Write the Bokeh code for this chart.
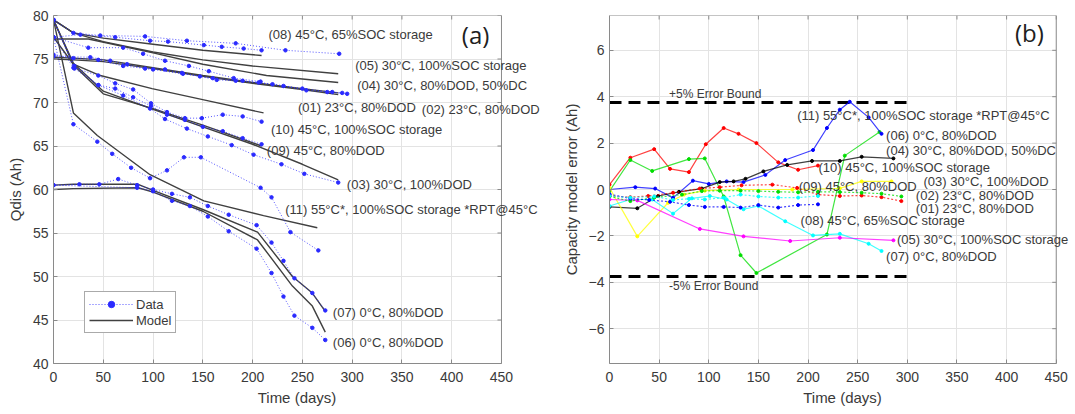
import math
from bokeh.plotting import figure
from bokeh.models import (Range1d, FixedTicker, Legend, LegendItem, LabelSet, Label,
                          ColumnDataSource, BoxAnnotation, Span)
from bokeh.layouts import row
from bokeh.embed import file_html
from bokeh.resources import INLINE
from bokeh.core.properties import value

# ---------------- Panel (a): measured capacity (Data) ----------------
data_days_01 = [0, 37, 57, 74, 92, 112, 129, 147, 164, 183, 206, 231, 254, 275, 295]
data_ah_01 = [75.3, 75.2, 74.8, 74.4, 73.9, 73.8, 73.4, 73.0, 72.6, 72.5, 72.3, 71.9, 71.4, 71.2, 71.0]
data_days_02 = [0, 20, 45, 70, 100, 130, 160, 190, 220, 250, 280, 290]
data_ah_02 = [75.5, 75.1, 74.9, 74.2, 73.8, 73.3, 72.8, 72.5, 72.1, 71.6, 71.2, 71.1]
data_days_03 = [0, 21, 45, 70, 97, 112, 134, 155, 179, 201, 229, 252, 286]
data_ah_03 = [79.5, 74.2, 72.0, 70.8, 69.3, 68.1, 67.0, 66.1, 65.1, 64.0, 62.9, 61.8, 60.8]
data_days_04 = [0, 35, 70, 90, 112, 136, 156, 181, 208]
data_ah_04 = [77.5, 76.3, 76.3, 75.6, 74.8, 74.2, 73.6, 72.8, 72.4]
data_days_05 = [0, 27, 62, 97, 115, 151, 169, 191, 209]
data_ah_05 = [77.5, 77.8, 77.5, 77.1, 77.0, 76.6, 76.4, 76.2, 76.0]
data_days_06 = [0, 84, 100, 119, 137, 155, 176, 204, 219, 231, 242, 260, 273]
data_ah_06 = [60.5, 60.2, 59.8, 58.7, 58.1, 56.9, 55.2, 53.2, 50.4, 47.7, 45.5, 44.1, 42.7]
data_days_07 = [0, 26, 46, 65, 84, 100, 119, 137, 155, 176, 204, 219, 231, 242, 260, 273]
data_ah_07 = [60.5, 60.6, 60.6, 61.2, 60.5, 60.0, 59.5, 59.1, 58.1, 57.1, 55.9, 53.9, 51.8, 49.8, 48.1, 46.1]
data_days_08 = [0, 20, 47, 92, 134, 183, 233, 287]
data_ah_08 = [79.5, 78.0, 77.7, 77.6, 77.1, 76.8, 76.0, 75.6]
data_days_09 = [0, 21, 45, 62, 80, 98, 114, 132, 150, 170, 190, 209]
data_ah_09 = [79.5, 73.9, 72.0, 71.6, 70.6, 69.6, 68.6, 68.0, 67.2, 66.7, 65.9, 65.2]
data_days_10 = [0, 20, 45, 62, 80, 98, 114, 132, 149, 170, 190, 209]
data_ah_10 = [77.5, 74.0, 73.1, 72.2, 71.5, 69.9, 68.9, 68.2, 68.2, 68.6, 68.4, 67.8]
data_days_11 = [0, 20, 44, 59, 78, 97, 114, 131, 148, 208, 219, 238, 266]
data_ah_11 = [77.5, 67.5, 65.5, 64.1, 62.5, 61.3, 62.2, 63.7, 63.7, 60.2, 59.1, 55.1, 53.0]

# ---------------- Panel (a): model ----------------
model_days_01 = [0, 20, 50, 100, 150, 200, 250, 286]
model_ah_01 = [75.2, 75.1, 74.9, 74.0, 73.1, 72.3, 71.6, 71.1]
model_days_02 = [0, 20, 50, 100, 150, 200, 250, 286]
model_ah_02 = [75.0, 74.9, 74.7, 73.9, 73.0, 72.2, 71.5, 70.9]
model_days_03 = [0, 20, 50, 100, 150, 200, 250, 286]
model_ah_03 = [79.5, 74.5, 71.3, 69.2, 67.2, 65.2, 62.9, 61.1]
model_days_04 = [0, 35, 100, 150, 214, 286]
model_ah_04 = [77.3, 77.3, 75.7, 74.4, 73.1, 72.3]
model_days_05 = [0, 20, 50, 100, 150, 200, 286]
model_ah_05 = [79.5, 78.0, 77.0, 75.8, 74.9, 74.2, 73.3]
model_days_06 = [0, 20, 85, 100, 150, 205, 240, 260, 273]
model_ah_06 = [60.0, 60.1, 60.2, 59.7, 57.5, 54.2, 48.9, 46.6, 43.6]
model_days_07 = [0, 20, 85, 100, 150, 205, 240, 260, 273]
model_ah_07 = [60.5, 60.6, 60.6, 59.9, 57.7, 55.1, 50.0, 48.1, 46.0]
model_days_08 = [0, 20, 50, 100, 150, 209]
model_ah_08 = [79.5, 78.0, 77.4, 76.7, 76.0, 75.4]
model_days_09 = [0, 20, 50, 100, 150, 209]
model_ah_09 = [79.5, 74.3, 71.0, 69.3, 67.4, 65.0]
model_days_10 = [0, 20, 47, 99, 151, 211]
model_ah_10 = [77.5, 74.4, 73.1, 71.6, 70.3, 68.8]
model_days_11 = [0, 20, 44, 97, 151, 211, 265]
model_ah_11 = [79.5, 68.8, 66.2, 61.7, 58.7, 57.0, 55.6]

# ---------------- Panel (a) labels ----------------
labels_a = ["(08) 45°C, 65%SOC storage", "(05) 30°C, 100%SOC storage",
            "(04) 30°C, 80%DOD, 50%DC", "(01) 23°C, 80%DOD", "(02) 23°C, 80%DOD",
            "(10) 45°C, 100%SOC storage", "(09) 45°C, 80%DOD", "(03) 30°C, 100%DOD",
            "(11) 55°C*, 100%SOC storage *RPT@45°C", "(07) 0°C, 80%DOD", "(06) 0°C, 80%DOD"]
labels_a_x = [216, 303, 305, 245.5, 370, 218.4, 214.3, 294.7, 232.7, 280.6, 280.6]
labels_a_y = [77.76, 74.3, 72.0, 69.4, 69.2, 66.85, 64.47, 60.57, 57.69, 45.9, 42.4]

# ---------------- Panel (b): model error ----------------
err_days_10 = [0, 21, 45, 61, 80, 97, 115, 130, 148, 170, 190, 210]
err_10 = [0.21, 1.37, 1.74, 0.89, 0.75, 1.95, 2.65, 2.4, 2.0, 1.17, 0.85, 1.03]
err_days_06 = [0, 21, 43, 80, 96, 115, 132, 148, 219, 237, 272]
err_06 = [-0.07, 1.27, 0.8, 1.31, 1.34, -0.3, -2.83, -3.6, -1.94, 1.46, 2.48]
err_days_11 = [0, 26, 46, 64, 84, 100, 118, 135, 157, 177, 205, 219, 232, 242, 261, 274]
err_11 = [0.0, 0.1, 0.04, -0.36, 0.38, 0.24, 0.35, 0.32, 0.63, 1.27, 1.7, 2.65, 3.44, 3.78, 3.11, 2.4]
err_days_04 = [0, 28, 49, 70, 93, 111, 125, 137, 155, 179, 204, 232, 254, 286]
err_04 = [-0.75, -0.81, -0.28, -0.1, 0.04, 0.32, 0.35, 0.46, 0.78, 1.06, 1.23, 1.23, 1.41, 1.34]
err_days_03 = [0, 28, 59, 75, 96, 130, 184, 232, 254, 284]
err_03 = [0.07, -2.02, -0.57, -0.22, -0.05, 0.0, 0.0, 0.05, 0.35, 0.35]
err_days_07 = [0, 21, 43, 64, 83, 101, 118, 135, 150, 177, 205, 232, 261, 274]
err_07 = [-0.71, -0.43, -0.43, -1.04, -0.38, -0.28, -0.43, -0.85, -0.71, -1.37, -1.98, -1.91, -2.34, -2.65]
err_days_05 = [0, 28, 91, 135, 182, 232, 286]
err_05 = [-0.43, -0.47, -1.7, -2.02, -2.22, -2.08, -2.19]
err_days_01 = [0, 21, 39, 64, 91, 111, 133, 164, 189, 210, 232, 254, 274, 294]
err_01 = [-0.28, -0.33, -0.28, -0.14, 0.04, 0.1, 0.18, 0.21, 0.07, -0.22, -0.28, -0.26, -0.33, -0.5]
err_days_02 = [0, 21, 45, 73, 93, 111, 132, 150, 170, 190, 210, 232, 254, 274, 294]
err_02 = [-0.3, -0.5, -0.35, -0.22, -0.07, -0.05, -0.05, -0.07, -0.1, -0.12, -0.1, -0.11, -0.14, -0.18, -0.3]
err_days_08 = [0, 21, 40, 61, 80, 96, 115, 132, 150, 170, 190, 210]
err_08 = [-0.2, -0.39, -0.45, -0.53, -0.67, -0.75, -0.75, -0.78, -0.67, -0.78, -0.67, -0.64]
err_days_09 = [0, 21, 45, 64, 80, 96, 115, 132, 150, 170, 190, 210]
err_09 = [-0.28, -0.35, -0.3, -0.45, -0.4, -0.43, -0.35, -0.22, -0.3, -0.35, -0.35, -0.28]

labels_b = ["(11) 55°C*, 100%SOC storage *RPT@45°C", "(06) 0°C, 80%DOD",
            "(04) 30°C, 80%DOD, 50%DC", "(10) 45°C, 100%SOC storage", "(03) 30°C, 100%DOD",
            "(09) 45°C, 80%DOD", "(02) 23°C, 80%DOD", "(01) 23°C, 80%DOD",
            "(08) 45°C, 65%SOC storage", "(05) 30°C, 100%SOC storage", "(07) 0°C, 80%DOD"]
labels_b_x = [189, 278.6, 278.6, 210.5, 316.3, 190.6, 308.6, 308.6, 192.5, 289.5, 278.6]
labels_b_y = [3.21, 2.33, 1.67, 0.95, 0.35, 0.14, -0.28, -0.82, -1.35, -2.17, -2.87]

error_bound = 3.75
bound_days = [0, 300]
bound_labels = ["+5% Error Bound", "-5% Error Bound"]
bound_label_x = [60, 60]
bound_label_y = [4.13, -4.15]

x_ticks = [0, 50, 100, 150, 200, 250, 300, 350, 400, 450]
ya_ticks = [40, 45, 50, 55, 60, 65, 70, 75, 80]
yb_ticks = [-6, -4, -2, 0, 2, 4, 6]
X_MAX = 450

FONT = "Liberation Sans"
AXIS_COL = "#8a8a8a"
TXT = "#3a3a3a"
GRID = "#e3e3e3"
BLUE = "#2a2aff"
MODEL = "#404040"


def style(p, xticks, yticks, xmax, ymin, ymax):
    # The frame is wider than the axes box so that labels can overflow it;
    # the visible box is limited to [0, xmax].
    p.outline_line_color = None
    p.xgrid.grid_line_color = GRID
    p.ygrid.grid_line_color = GRID
    p.xaxis.ticker = FixedTicker(ticks=xticks)
    p.yaxis.ticker = FixedTicker(ticks=yticks)
    p.xaxis.bounds = (0, xmax)
    for ax in [p.xaxis[0], p.yaxis[0]]:
        ax.axis_line_color = AXIS_COL
        ax.major_tick_line_color = AXIS_COL
        ax.major_tick_in = 4
        ax.major_tick_out = 0
        ax.minor_tick_line_color = None
        ax.major_label_text_font = FONT
        ax.major_label_text_font_size = "14px"
        ax.major_label_text_color = TXT
        ax.axis_label_text_font = FONT
        ax.axis_label_text_font_size = "15px"
        ax.axis_label_text_font_style = "normal"
        ax.axis_label_text_color = TXT
    p.xaxis.major_label_standoff = 8
    p.xaxis.axis_label_standoff = 4
    p.yaxis.major_label_standoff = 5
    p.yaxis.axis_label_standoff = 6
    p.xaxis.axis_label_text_align = "center"
    # blank out grid beyond the box
    p.add_layout(BoxAnnotation(left=xmax, fill_color="white", fill_alpha=1,
                               line_color=None, level="underlay"))
    # right and top box edges
    p.add_layout(Span(location=xmax, dimension="height", line_color=AXIS_COL, line_width=1))
    p.segment(x0=[0], y0=[ymax], x1=[xmax], y1=[ymax], line_color=AXIS_COL, line_width=1)
    # box tick marks on right and top edges (MATLAB style)
    p.ray(x=[xmax] * len(yticks), y=yticks, length=4, length_units="screen",
          angle=math.pi, line_color=AXIS_COL, line_width=1)
    p.ray(x=xticks, y=[ymax] * len(xticks), length=4, length_units="screen",
          angle=-math.pi / 2, line_color=AXIS_COL, line_width=1)


def labelset(p, xs, ys, texts, size, color=TXT):
    src = ColumnDataSource(dict(x=xs, y=ys, text=texts))
    ls = LabelSet(x="x", y="y", text="text", source=src, text_font=value(FONT),
                  text_font_size=value(size), text_color=color, text_align="left",
                  text_baseline="middle")
    p.add_layout(ls)


# ---------------- Figure (a) ----------------
# box: 53..501 px for 0..450 days; frame continues to 540 px
pa = figure(width=540, height=414, output_backend="svg", toolbar_location=None,
            x_range=Range1d(0, 489.2), y_range=Range1d(40, 80),
            min_border_left=53, min_border_right=0, min_border_top=11, min_border_bottom=51,
            x_axis_label="Time (days)", y_axis_label="Qdis (Ah)")
style(pa, x_ticks, ya_ticks, X_MAX, 40, 80)
pa.xaxis.axis_label_text_align = "center"

data_x = [data_days_01, data_days_02, data_days_03, data_days_04, data_days_05, data_days_06,
          data_days_07, data_days_08, data_days_09, data_days_10, data_days_11]
data_y = [data_ah_01, data_ah_02, data_ah_03, data_ah_04, data_ah_05, data_ah_06,
          data_ah_07, data_ah_08, data_ah_09, data_ah_10, data_ah_11]
model_x = [model_days_01, model_days_02, model_days_03, model_days_04, model_days_05, model_days_06,
           model_days_07, model_days_08, model_days_09, model_days_10, model_days_11]
model_y = [model_ah_01, model_ah_02, model_ah_03, model_ah_04, model_ah_05, model_ah_06,
           model_ah_07, model_ah_08, model_ah_09, model_ah_10, model_ah_11]

data_line = data_pts = model_line = None
for mx, my in zip(model_x, model_y):
    model_line = pa.line(mx, my, line_color=MODEL, line_width=1.4)
for dx, dy in zip(data_x, data_y):
    data_line = pa.line(dx, dy, line_color=BLUE, line_width=1, line_dash="1 2", line_alpha=0.8)
    data_pts = pa.scatter(dx, dy, marker="circle", size=3.5, fill_color=BLUE, line_color=BLUE)

labelset(pa, labels_a_x, labels_a_y, labels_a, "13px")
pa.add_layout(Label(x=424, y=77.8, text="(a)", text_font="Open Sans", text_font_size="24px",
                    text_color="#202020", text_align="center", text_baseline="middle"))

leg = Legend(items=[LegendItem(label="Data", renderers=[data_line, data_pts]),
                    LegendItem(label="Model", renderers=[model_line])],
             location=(31, 30), orientation="vertical",
             glyph_width=44, glyph_height=16, label_height=16, spacing=0, padding=4,
             label_standoff=3, label_text_font=FONT, label_text_font_size="13px",
             label_text_color=TXT, border_line_color="#555555", border_line_width=1,
             background_fill_color="white", background_fill_alpha=1, margin=0)
pa.add_layout(leg, "center")

# ---------------- Figure (b) ----------------
# box: 609..1056 px for 0..450 days; frame continues to 1075 px
pb = figure(width=535, height=414, output_backend="svg", toolbar_location=None,
            x_range=Range1d(0, 469.4), y_range=Range1d(-7.5, 7.5),
            min_border_left=69, min_border_right=0, min_border_top=15, min_border_bottom=46,
            x_axis_label="Time (days)", y_axis_label="Capacity model error (Ah)")
style(pb, x_ticks, yb_ticks, X_MAX, -7.5, 7.5)

pb.line(bound_days, [error_bound, error_bound], line_color="black", line_width=3, line_dash="12 7")
pb.line(bound_days, [-error_bound, -error_bound], line_color="black", line_width=3, line_dash="12 7")

err_series = [
    (err_days_10, err_10, "#ff0000", "solid"),
    (err_days_06, err_06, "#00dd00", "solid"),
    (err_days_11, err_11, "#0000ff", "solid"),
    (err_days_04, err_04, "#000000", "solid"),
    (err_days_03, err_03, "#ffff00", "solid"),
    (err_days_07, err_07, "#00ffff", "solid"),
    (err_days_05, err_05, "#ff00ff", "solid"),
    (err_days_01, err_01, "#ff0000", "dotted"),
    (err_days_02, err_02, "#00dd00", "dotted"),
    (err_days_08, err_08, "#0000ff", "dotted"),
    (err_days_09, err_09, "#00ffff", "dotted"),
]
for ex, ey, col, sty in err_series:
    if sty == "solid":
        pb.line(ex, ey, line_color=col, line_width=1.2, line_alpha=0.75)
    else:
        pb.line(ex, ey, line_color=col, line_width=1.2, line_dash="2 2", line_alpha=0.75)
    pb.scatter(ex, ey, marker="circle", size=3, fill_color=col, line_color=col)

labelset(pb, labels_b_x, labels_b_y, labels_b, "13px")
labelset(pb, bound_label_x, bound_label_y, bound_labels, "12px")
pb.add_layout(Label(x=423, y=6.78, text="(b)", text_font="Open Sans", text_font_size="24px",
                    text_color="#202020", text_align="center", text_baseline="middle"))

layout = row(pa, pb)
open("out.html", "w").write(file_html(layout, INLINE))
